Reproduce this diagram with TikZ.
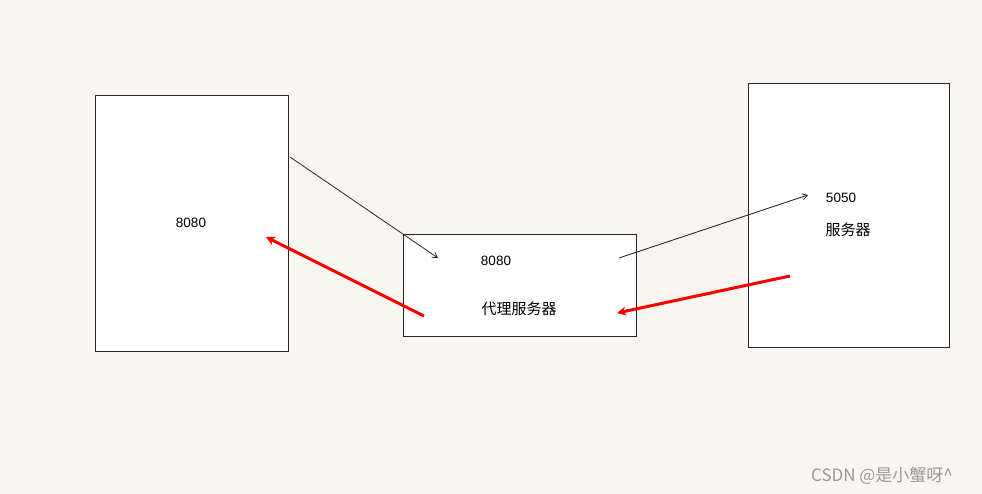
\documentclass[tikz,border=0pt]{standalone}
\usepackage{fontspec}
\setmainfont{Liberation Sans}
\newfontfamily\cjk{Noto Sans CJK SC}
\usetikzlibrary{arrows.meta}
\definecolor{bgc}{HTML}{F9F6EF}
\begin{document}
\begin{tikzpicture}[x=1pt,y=-1pt,
  box/.style={draw=black!85,fill=white,line width=1pt,inner sep=0pt},
  lbl/.style={font=\fontsize{13.5}{15}\selectfont,inner sep=0pt},
  cjklbl/.style={font=\cjk\fontsize{15}{17}\selectfont,inner sep=0pt},
  thin/.style={draw=black!85,line width=0.8pt,-{Straight Barb[length=5pt,width=6pt]}},
  req/.style={draw=red,line width=3pt,-{Stealth[length=9pt,width=9pt]}}]
\fill[bgc] (0,0) rectangle (982,494);
\useasboundingbox (0,0) rectangle (982,494);
\node[box,minimum width=193pt,minimum height=256pt,anchor=north west] (client) at (95,95) {};
\node[box,minimum width=233pt,minimum height=102pt,anchor=north west] (proxy) at (403,234) {};
\node[box,minimum width=201pt,minimum height=264pt,anchor=north west] (server) at (748,83) {};
\node[lbl] (c8080) at (191,223) {8080};
\node[lbl] (p8080) at (496,261) {8080};
\node[cjklbl] (pname) at (519,309) {代理服务器};
\node[lbl] (s5050) at (841,198) {5050};
\node[cjklbl] (sname) at (848,230) {服务器};
\node[font=\cjk\fontsize{17}{19}\selectfont,text=black!40,inner sep=0pt] (wm) at (882,476) {CSDN @是小蟹呀\textasciicircum};
\coordinate (a1s) at (290,157);
\coordinate (a1e) at (438,258);
\coordinate (a2s) at (619,258);
\coordinate (a2e) at (808,195);
\coordinate (r1s) at (424,316);
\coordinate (r1e) at (266,237);
\coordinate (r2s) at (790,276);
\coordinate (r2e) at (617,313);
\draw[thin] (a1s) -- (a1e);
\draw[thin] (a2s) -- (a2e);
\draw[req] (r1s) -- (r1e);
\draw[req] (r2s) -- (r2e);
\end{tikzpicture}
\end{document}
